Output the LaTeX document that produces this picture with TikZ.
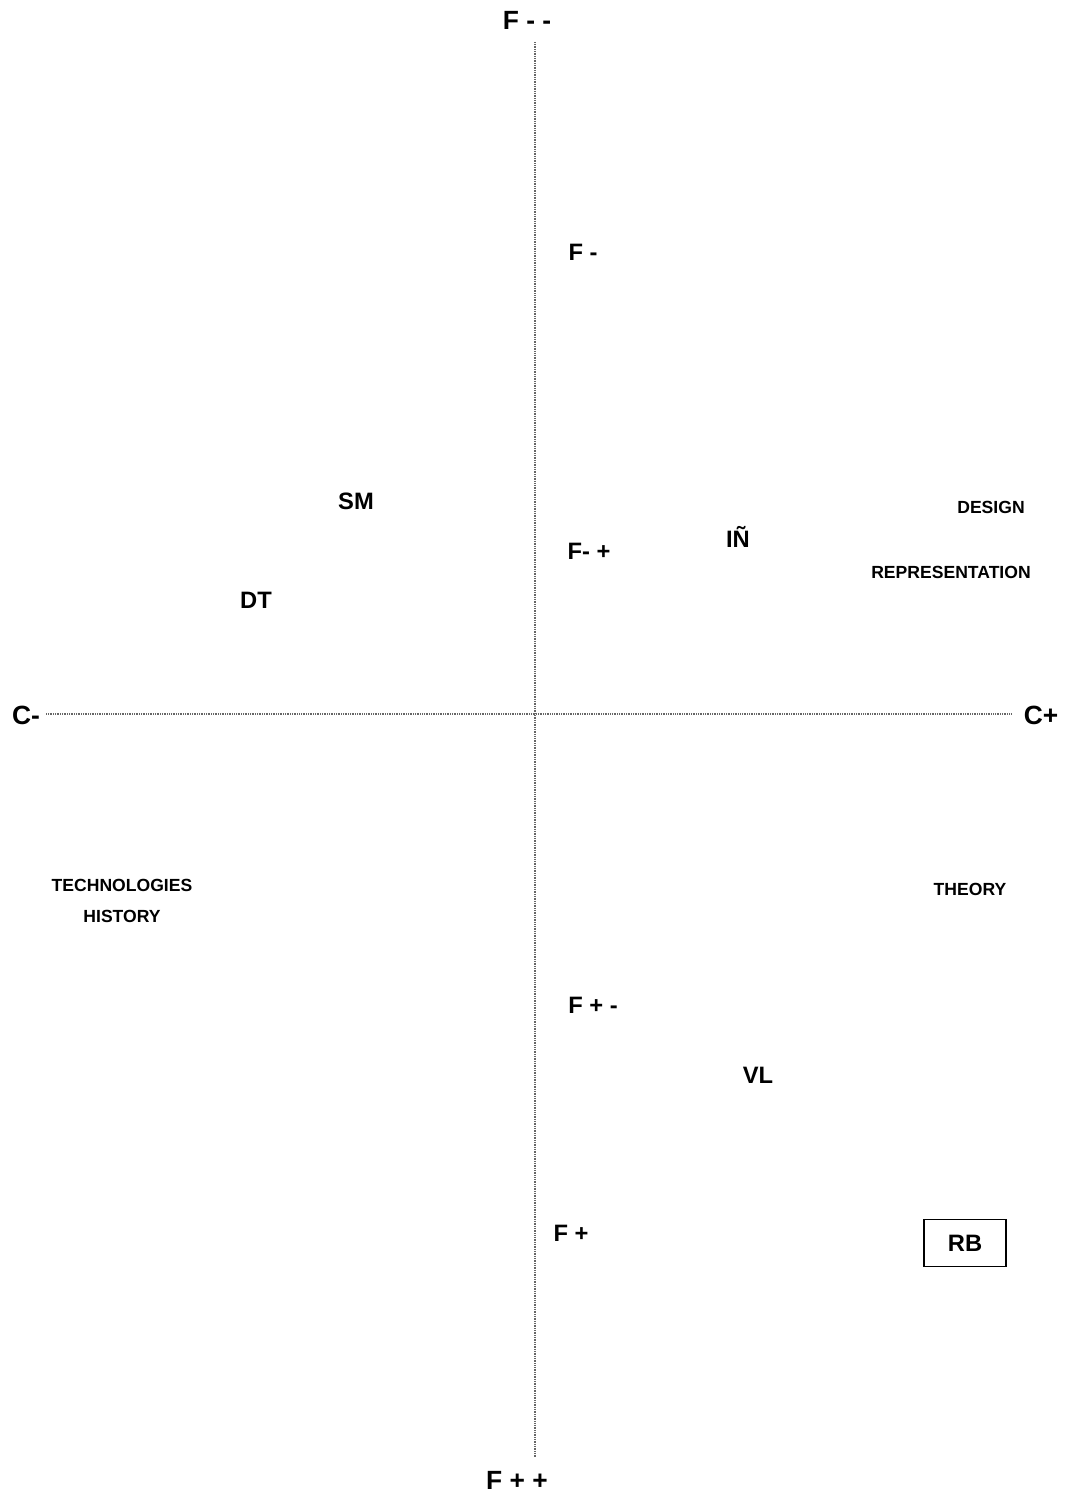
\documentclass[tikz,border=0pt]{standalone}
\usepackage{fontspec}
\setmainfont{Liberation Sans}
\usetikzlibrary{positioning}

\begin{document}
\begin{tikzpicture}[
  x=0.02cm, y=-0.02cm,
  axlabel/.style={font=\bfseries\fontsize{15}{18}\selectfont, inner sep=0pt},
  plabel/.style={font=\bfseries\fontsize{13.5}{16}\selectfont, inner sep=0pt},
  tlabel/.style={font=\bfseries\fontsize{10}{12}\selectfont, inner sep=0pt},
  axis/.style={draw=black!60, dash pattern=on 0.5pt off 0.5pt, line width=0.6pt},
  rbbox/.style={draw, line width=0.6pt, minimum width=82*0.02cm, minimum height=47*0.02cm, font=\bfseries\fontsize{13.5}{16}\selectfont}
]
  \useasboundingbox (0,0) rectangle (1070,1495);

  % axes
  \coordinate (ftop) at (535,42);
  \coordinate (fbot) at (535,1458);
  \coordinate (cleft) at (46,714);
  \coordinate (cright) at (1012,714);
  \draw[axis] (ftop) -- (fbot);
  \draw[axis] (cleft) -- (cright);

  % axis labels
  \node[axlabel] (fmm) at (527,20) {F - -};
  \node[axlabel] (fpp) at (517,1480) {F + +};
  \node[axlabel] (cm) at (26,715) {C-};
  \node[axlabel] (cp) at (1041,715) {C+};

  % intermediate marks
  \node[plabel] (fm) at (583,252) {F -};
  \node[plabel] (fmp) at (589,551) {F- +};
  \node[plabel] (fpm) at (593,1005) {F + -};
  \node[plabel] (fp) at (571,1233) {F +};

  % initials
  \node[plabel] (sm) at (356,501) {SM};
  \node[plabel] (dt) at (256,600) {DT};
  \node[plabel] (in) at (738,537) {IÑ};
  \node[plabel] (vl) at (758,1075) {VL};
  \node[rbbox] (rb) at (965,1243) {RB};

  % subjects
  \node[tlabel] (design) at (991,507) {DESIGN};
  \node[tlabel] (repr) at (951,572) {REPRESENTATION};
  \node[tlabel] (tech) at (122,885) {TECHNOLOGIES};
  \node[tlabel] (hist) at (122,916) {HISTORY};
  \node[tlabel] (theory) at (970,889) {THEORY};
\end{tikzpicture}
\end{document}
